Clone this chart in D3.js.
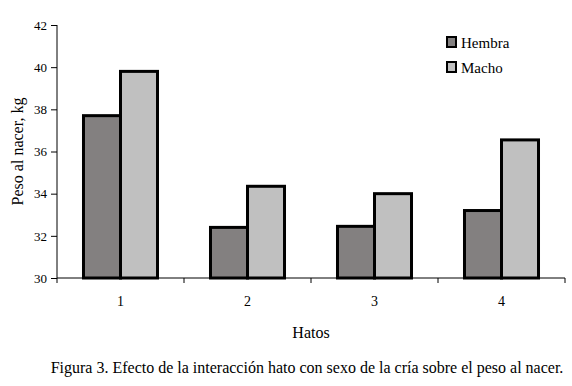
<!DOCTYPE html>
<html>
<head>
<meta charset="utf-8">
<script src="https://cdn.jsdelivr.net/npm/d3@7"></script>
<style>
  body { margin: 0; background: #fff; }
  svg { display: block; font-family: "Liberation Serif", "Times New Roman", serif; }
  svg text { font-family: "Liberation Serif", "Times New Roman", serif; }
</style>
</head>
<body>
<svg id="chart" width="572" height="386"></svg>
<script>
const hatos = ["1", "2", "3", "4"]
const series = ["Hembra", "Macho"]
const hembra = [37.7, 32.4, 32.45, 33.2]
const macho = [39.8, 34.35, 34.0, 36.55]
const yTicks = [30, 32, 34, 36, 38, 40, 42]
const colors = {Hembra: "#838080", Macho: "#c0c0c0"}

const svg = d3.select("#chart")
const m = {left: 57, top: 25, right: 7, bottom: 108}
const width = 572, height = 386
const iw = width - m.left - m.right
const ih = height - m.top - m.bottom

const x = d3.scaleBand().domain(hatos).range([0, iw]).paddingInner(0).paddingOuter(0)
const xs = d3.scaleBand().domain(series).range([0, x.bandwidth()]).paddingInner(0).paddingOuter(0.716)
const y = d3.scaleLinear().domain([30, 42]).range([ih, 0])

const root = svg.append("g").attr("transform", `translate(${m.left},${m.top})`)

const rows = hatos.map((h, i) => ({h, vals: [{k: "Hembra", v: hembra[i]}, {k: "Macho", v: macho[i]}]}))

root.selectAll("g.grp")
  .data(rows)
  .join("g")
  .attr("class", "grp")
  .attr("transform", (d) => `translate(${x(d.h)},0)`)
  .selectAll("rect")
  .data((d) => d.vals)
  .join("rect")
  .attr("x", (d) => xs(d.k))
  .attr("y", (d) => y(d.v))
  .attr("width", xs.bandwidth())
  .attr("height", (d) => ih - y(d.v))
  .attr("fill", (d) => colors[d.k])
  .attr("stroke", "#000")
  .attr("stroke-width", 3)

// y axis
const ya = root.append("g")
  .call(d3.axisLeft(y).tickValues(yTicks).tickSize(6).tickPadding(4))
ya.attr("font-family", null).attr("font-size", 13)
ya.select(".domain").attr("stroke", "#000").attr("d", `M0,${ih}V0`)
ya.selectAll("line").attr("stroke", "#000")
ya.selectAll("text").attr("fill", "#000")

// x axis
const xa = root.append("g").attr("transform", `translate(0,${ih})`)
  .call(d3.axisBottom(x).tickSize(0).tickPadding(18))
xa.attr("font-family", null).attr("font-size", 14)
xa.select(".domain").attr("stroke", "#000").attr("d", `M0,0H${iw}`)
xa.selectAll("text").attr("fill", "#000")
xa.selectAll("line.sep")
  .data(hatos.concat("end"))
  .join("line")
  .attr("class", "sep")
  .attr("x1", (d, i) => i * x.bandwidth())
  .attr("x2", (d, i) => i * x.bandwidth())
  .attr("y1", 0)
  .attr("y2", 5)
  .attr("stroke", "#000")

// titles
svg.append("text")
  .attr("transform", `translate(23,${m.top + ih / 2}) rotate(-90)`)
  .attr("text-anchor", "middle")
  .attr("font-size", 16)
  .text("Peso al nacer, kg")

svg.append("text")
  .attr("x", m.left + iw / 2)
  .attr("y", 338)
  .attr("text-anchor", "middle")
  .attr("font-size", 16)
  .text("Hatos")

svg.append("text")
  .attr("x", 307)
  .attr("y", 373)
  .attr("text-anchor", "middle")
  .attr("font-size", 16)
  .text("Figura 3. Efecto de la interacción hato con sexo de la cría sobre el peso al nacer.")

// legend
const lg = svg.append("g").attr("transform", "translate(447,37)")
const li = lg.selectAll("g").data(series).join("g").attr("transform", (d, i) => `translate(0,${i * 25})`)
li.append("rect")
  .attr("x", 0).attr("y", 0).attr("width", 9).attr("height", 10)
  .attr("fill", (d) => colors[d]).attr("stroke", "#000").attr("stroke-width", 2)
li.append("text")
  .attr("x", 14).attr("y", 11)
  .attr("font-size", 15)
  .text((d) => d)
</script>
</body>
</html>
